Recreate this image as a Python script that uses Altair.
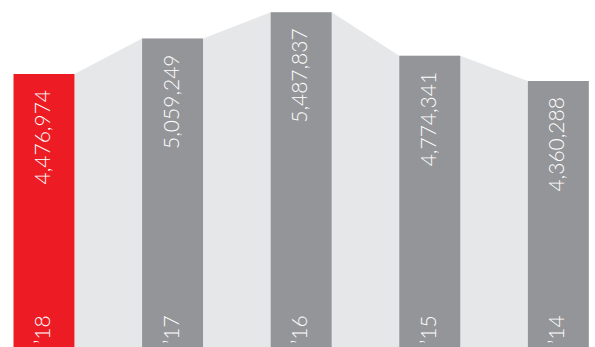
import altair as alt
import pandas as pd

years = ["’18", "’17", "’16", "’15", "’14"]
values = [4476974, 5059249, 5487837, 4774341, 4360288]
colors = ["#ED1C24", "#939598", "#939598", "#939598", "#939598"]

half = 0.237
idx = list(range(len(values)))
bars = pd.DataFrame({
    "i": idx,
    "x1": [i - half for i in idx],
    "x2": [i + half for i in idx],
    "value": values,
    "year": years,
    "color": colors,
})

area_rows = []
for i in range(len(values) - 1):
    area_rows.append({"x": i + half, "value": values[i]})
    area_rows.append({"x": i + 1 - half, "value": values[i + 1]})
area_df = pd.DataFrame(area_rows)

xs = alt.Scale(domain=[-0.342, 4.285], nice=False, zero=False)
ys = alt.Scale(domain=[0, 5690000], nice=False)

area = alt.Chart(area_df).mark_area(color="#E6E7E8", opacity=1).encode(
    x=alt.X("x:Q", scale=xs, axis=None),
    y=alt.Y("value:Q", scale=ys, axis=None),
)

bar = alt.Chart(bars).mark_rect().encode(
    x=alt.X("x1:Q", scale=xs, axis=None),
    x2="x2:Q",
    y=alt.Y("value:Q", scale=ys, axis=None),
    y2=alt.datum(0),
    color=alt.Color("color:N", scale=None),
)

vlab = alt.Chart(bars).mark_text(
    angle=270, align="right", baseline="middle", color="white",
    font="Lato", fontWeight=300, fontSize=21, yOffset=16,
).encode(
    x=alt.X("i:Q", scale=xs, axis=None),
    y=alt.Y("value:Q", scale=ys, axis=None),
    text=alt.Text("value:Q", format=",d"),
)

ylab = alt.Chart(bars).mark_text(
    angle=270, align="left", baseline="middle", color="white",
    font="Lato", fontWeight=300, fontSize=21, yOffset=-3,
).encode(
    x=alt.X("i:Q", scale=xs, axis=None),
    y=alt.datum(0, scale=ys),
    text="year:N",
)

chart = alt.layer(area, bar, vlab, ylab).properties(
    width=595, height=347, padding=0, autosize=alt.AutoSizeParams(type="none"),
    background="white",
).configure_view(stroke=None)

chart.save("out.html", embed_options={"renderer": "svg", "actions": False})
